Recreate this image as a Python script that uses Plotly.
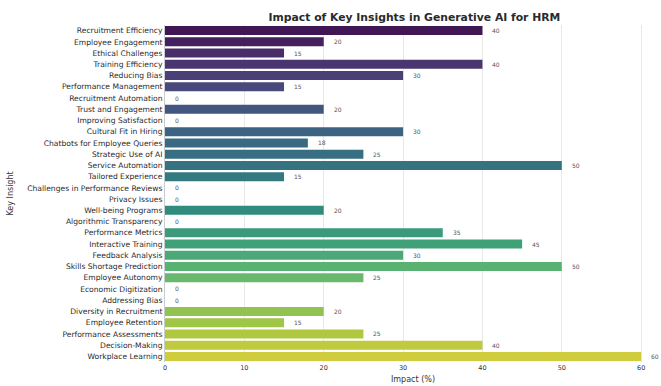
import colorsys
import plotly.graph_objects as go
from plotly.colors import sample_colorscale

insights = [
    "Recruitment Efficiency", "Employee Engagement", "Ethical Challenges", "Training Efficiency",
    "Reducing Bias", "Performance Management", "Recruitment Automation", "Trust and Engagement",
    "Improving Satisfaction", "Cultural Fit in Hiring", "Chatbots for Employee Queries",
    "Strategic Use of AI", "Service Automation", "Tailored Experience",
    "Challenges in Performance Reviews", "Privacy Issues", "Well-being Programs",
    "Algorithmic Transparency", "Performance Metrics", "Interactive Training", "Feedback Analysis",
    "Skills Shortage Prediction", "Employee Autonomy", "Economic Digitization", "Addressing Bias",
    "Diversity in Recruitment", "Employee Retention", "Performance Assessments", "Decision-Making",
    "Workplace Learning",
]
impact = [40, 20, 15, 40, 30, 15, 0, 20, 0, 30, 18, 25, 50, 15, 0, 0, 20, 0, 35, 45, 30, 50, 25,
          0, 0, 20, 15, 25, 40, 60]

n = len(insights)
raw = sample_colorscale("Viridis", [(i + 1) / (n + 1) for i in range(n)], colortype="tuple")


def desat(c, s=0.75):
    r, g, b = [v / 255 if v > 1 else v for v in c]
    h, l, sat = colorsys.rgb_to_hls(r, g, b)
    r, g, b = colorsys.hls_to_rgb(h, l, sat * s)
    return f"rgb({int(r*255)},{int(g*255)},{int(b*255)})"


colors = [desat(c) for c in raw]

FONT = "DejaVu Sans"
fig = go.Figure(go.Bar(
    x=impact, y=insights, orientation="h", marker=dict(color=colors, line=dict(width=0)),
    width=0.8,
))
for v, name in zip(impact, insights):
    fig.add_annotation(x=v, y=name, text=str(v), showarrow=False, xanchor="left",
                       xshift=8, font=dict(family=FONT, size=6, color="#555"))

fig.update_layout(
    width=661, height=386, margin=dict(l=165, r=0, t=25, b=24),
    paper_bgcolor="white", plot_bgcolor="white", showlegend=False,
    title=dict(text="<b>Impact of Key Insights in Generative AI for HRM</b>", x=0.627, xanchor="center",
               y=0.955, yanchor="middle", font=dict(family=FONT, size=10.8, color="#2a2a2a")),
    font=dict(family=FONT, size=7, color="#333"),
)
fig.update_xaxes(range=[0, 62.5], tickvals=[0, 10, 20, 30, 40, 50, 60], showgrid=True,
                 gridcolor="#e8e8e8", gridwidth=1, zeroline=False, ticks="", automargin=False,
                 tickfont=dict(size=6.5, color="#333"),
                 title=dict(text="Impact (%)", font=dict(size=8, color="#333"), standoff=5))
fig.update_yaxes(autorange="reversed", showgrid=False, ticks="", automargin=False,
                 tickfont=dict(size=7.6, color="#2a2a2a"), showline=True, linecolor="#ccc",
                 title=None)
fig.add_annotation(text="Key Insight", x=0, xref="paper", xanchor="center", xshift=-155,
                   y=0.5, yref="paper", textangle=-90, showarrow=False,
                   font=dict(family=FONT, size=8, color="#333"))
fig.write_html("out.html")
